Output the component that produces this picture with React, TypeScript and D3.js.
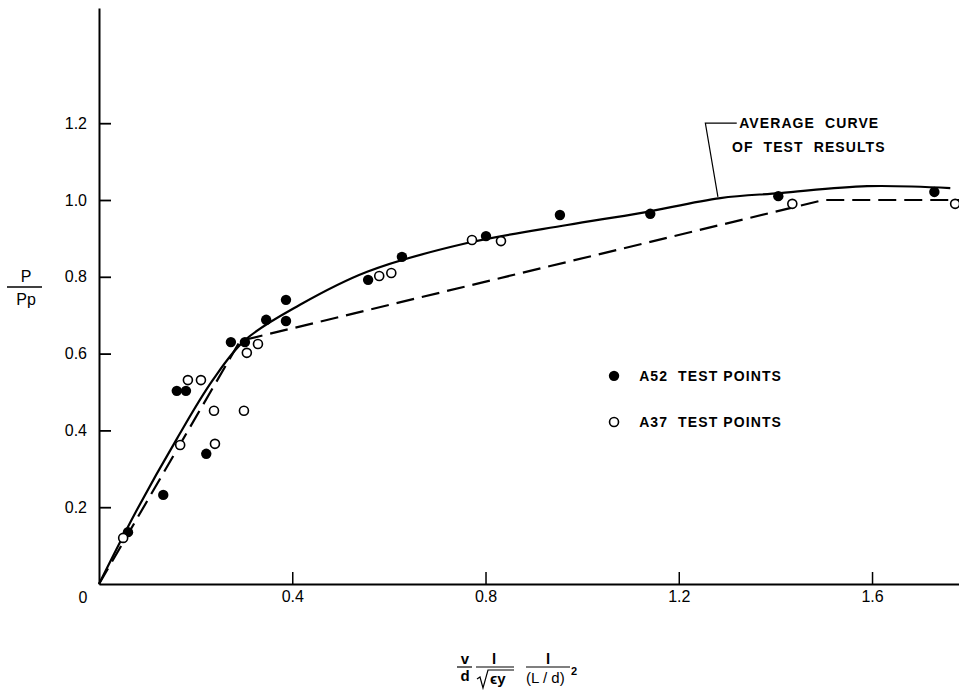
import React, { useEffect, useRef } from 'react';
import * as d3 from 'd3';

// A52 test points (filled)
const a52X = [0.06, 0.133, 0.161, 0.18, 0.222, 0.273, 0.302, 0.346, 0.387, 0.387, 0.557, 0.627, 0.801, 0.954, 1.141, 1.406, 1.729];
const a52Y = [0.135, 0.232, 0.503, 0.503, 0.339, 0.63, 0.63, 0.688, 0.685, 0.74, 0.792, 0.852, 0.906, 0.961, 0.964, 1.01, 1.021];

// A37 test points (open)
const a37X = [0.05, 0.168, 0.184, 0.211, 0.238, 0.24, 0.3, 0.306, 0.329, 0.58, 0.605, 0.772, 0.832, 1.435, 1.772];
const a37Y = [0.12, 0.362, 0.531, 0.531, 0.451, 0.365, 0.451, 0.602, 0.625, 0.802, 0.81, 0.896, 0.893, 0.99, 0.99];

// average curve of test results (solid)
const avgX = [0, 0.075, 0.162, 0.235, 0.302, 0.416, 0.555, 0.762, 0.969, 1.12, 1.286, 1.41, 1.59, 1.762];
const avgY = [0, 0.185, 0.38, 0.53, 0.635, 0.727, 0.813, 0.888, 0.935, 0.966, 1.005, 1.018, 1.036, 1.031];

// theoretical (dashed)
const theoX = [0, 0.292, 1.5, 1.78];
const theoY = [0, 0.633, 1.0, 1.0];

const yTicks = [0.2, 0.4, 0.6, 0.8, 1.0, 1.2];
const xTicks = [0.4, 0.8, 1.2, 1.6];

const W = 959;
const H = 699;
const FONT = '"Liberation Sans", Arial, sans-serif';
const SP = '\u00A0 ';

export default function App() {
  const ref = useRef<SVGSVGElement | null>(null);

  useEffect(() => {
    const svg = d3.select(ref.current);
    svg.selectAll('*').remove();

    const x = d3.scaleLinear().domain([0, 1.78]).range([99, W]);
    const y = d3.scaleLinear().domain([0, 1.5]).range([584, 8]);

    // axes
    svg.append('g')
      .attr('transform', `translate(${x(0)},0)`)
      .call(d3.axisLeft(y).tickValues(yTicks).tickSizeInner(-12).tickSizeOuter(0).tickPadding(12).tickFormat(d3.format('.1f')))
      .call(g => {
        g.select('.domain').attr('stroke', '#000').attr('stroke-width', 2);
        g.selectAll('line').attr('stroke', '#000').attr('stroke-width', 1.8);
        g.selectAll('text').attr('fill', '#000').style('font-size', '16px').style('font-family', FONT);
      });

    svg.append('g')
      .attr('transform', `translate(0,${y(0)})`)
      .call(d3.axisBottom(x).tickValues(xTicks).tickSizeInner(-12).tickSizeOuter(0).tickPadding(7).tickFormat(d3.format('.1f')))
      .call(g => {
        g.select('.domain').attr('stroke', '#000').attr('stroke-width', 2);
        g.selectAll('line').attr('stroke', '#000').attr('stroke-width', 1.5);
        g.selectAll('text').attr('fill', '#000').style('font-size', '16px').style('font-family', FONT);
      });

    svg.append('text')
      .attr('x', x(0) - 16).attr('y', y(0) + 19)
      .attr('text-anchor', 'middle')
      .style('font-size', '16px').style('font-family', FONT)
      .text('0');

    // lines
    const theo = theoX.map((d, i) => [d, theoY[i]] as [number, number]);
    const avg = avgX.map((d, i) => [d, avgY[i]] as [number, number]);

    svg.append('path')
      .attr('d', d3.line().x(d => x(d[0])).y(d => y(d[1]))(theo))
      .attr('fill', 'none')
      .attr('stroke', '#000')
      .attr('stroke-width', 2.2)
      .attr('stroke-dasharray', '18 8');

    svg.append('path')
      .attr('d', d3.line().x(d => x(d[0])).y(d => y(d[1])).curve(d3.curveCatmullRom.alpha(0.5))(avg))
      .attr('fill', 'none')
      .attr('stroke', '#000')
      .attr('stroke-width', 2.2);

    // points
    svg.append('g').selectAll('circle')
      .data(a52X.map((d, i) => [d, a52Y[i]]))
      .join('circle')
      .attr('cx', d => x(d[0])).attr('cy', d => y(d[1]))
      .attr('r', 5.2).attr('fill', '#000');

    svg.append('g').selectAll('circle')
      .data(a37X.map((d, i) => [d, a37Y[i]]))
      .join('circle')
      .attr('cx', d => x(d[0])).attr('cy', d => y(d[1]))
      .attr('r', 4.5).attr('fill', '#fff').attr('stroke', '#000').attr('stroke-width', 1.6);

    // annotation
    svg.append('path')
      .attr('d', `M${x(1.32)},${y(1.2)}H${x(1.255)}L${x(1.281)},${y(1.008)}`)
      .attr('fill', 'none').attr('stroke', '#000').attr('stroke-width', 1.2);

    const note = svg.append('g')
      .style('font-size', '14px').style('font-family', FONT).style('font-weight', 'bold')
      .style('letter-spacing', '1.1px');
    note.append('text').attr('x', x(1.325)).attr('y', y(1.2) + 5).text(`AVERAGE${SP}CURVE`);
    note.append('text').attr('x', x(1.31)).attr('y', y(1.138) + 5).text(`OF${SP}TEST${SP}RESULTS`);

    // legend
    const leg = svg.append('g')
      .style('font-size', '14px').style('font-family', FONT).style('font-weight', 'bold')
      .style('letter-spacing', '1.1px');
    leg.append('circle').attr('cx', x(1.066)).attr('cy', y(0.542)).attr('r', 5.2).attr('fill', '#000');
    leg.append('text').attr('x', x(1.118)).attr('y', y(0.542) + 5).text(`A52${SP}TEST POINTS`);
    leg.append('circle').attr('cx', x(1.066)).attr('cy', y(0.422)).attr('r', 4.5)
      .attr('fill', '#fff').attr('stroke', '#000').attr('stroke-width', 1.6);
    leg.append('text').attr('x', x(1.118)).attr('y', y(0.422) + 5).text(`A37${SP}TEST POINTS`);

    // y axis label P / Pp
    const yl = svg.append('g').style('font-size', '16px').style('font-family', FONT);
    yl.append('text').attr('x', 26).attr('y', 282).attr('text-anchor', 'middle').text('P');
    yl.append('line').attr('x1', 7).attr('x2', 42).attr('y1', 287).attr('y2', 287).attr('stroke', '#000').attr('stroke-width', 1.3);
    yl.append('text').attr('x', 26).attr('y', 305).attr('text-anchor', 'middle').text('Pp');

    // x axis label: v/d * 1/sqrt(eps_y) * 1/(L/d)^2
    const xl = svg.append('g').style('font-size', '15px').style('font-family', FONT).style('font-weight', 'bold');
    xl.append('text').attr('x', 465).attr('y', 664).attr('text-anchor', 'middle').text('v');
    xl.append('line').attr('x1', 457).attr('x2', 472).attr('y1', 667).attr('y2', 667).attr('stroke', '#000').attr('stroke-width', 1.2);
    xl.append('text').attr('x', 465).attr('y', 681).attr('text-anchor', 'middle').text('d');

    xl.append('text').attr('x', 494).attr('y', 664).attr('text-anchor', 'middle').text('l');
    xl.append('line').attr('x1', 476).attr('x2', 514).attr('y1', 667).attr('y2', 667).attr('stroke', '#000').attr('stroke-width', 1.2);
    xl.append('path').attr('d', 'M477,679 L480,677 L483,688 L488,670 L514,670')
      .attr('fill', 'none').attr('stroke', '#000').attr('stroke-width', 1.2);
    xl.append('text').attr('x', 490).attr('y', 684).text('\u03F5y');

    xl.append('text').attr('x', 548).attr('y', 664).attr('text-anchor', 'middle').text('l');
    xl.append('line').attr('x1', 526).attr('x2', 570).attr('y1', 667).attr('y2', 667).attr('stroke', '#000').attr('stroke-width', 1.2);
    xl.append('text').attr('x', 526).attr('y', 683).style('font-weight', 'normal').text('(L / d)');
    xl.append('text').attr('x', 571).attr('y', 675).style('font-size', '11px').text('2');
  }, []);

  return (
    <div style={{ position: 'absolute', left: 0, top: 0 }}>
      <svg ref={ref} width={W} height={H} style={{ background: '#fff', display: 'block' }} />
    </div>
  );
}
